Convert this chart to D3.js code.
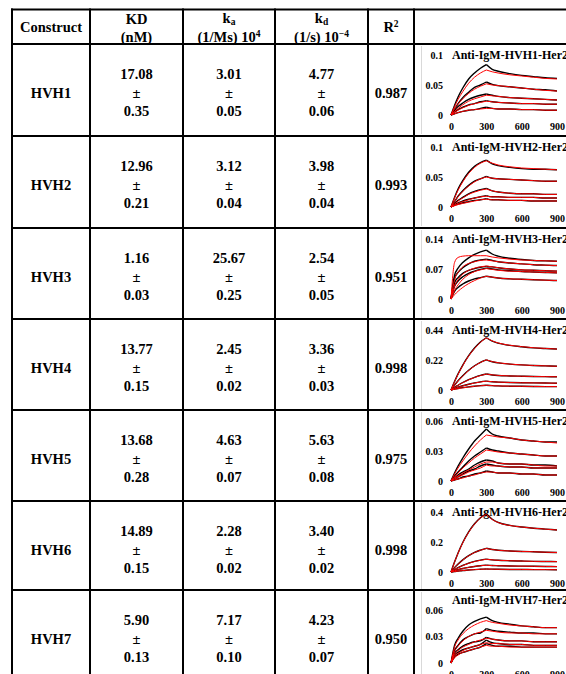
<!DOCTYPE html>
<html><head><meta charset="utf-8">
<script src="https://cdn.jsdelivr.net/npm/d3@7/dist/d3.min.js"></script>
<style>
html,body{margin:0;padding:0;background:#fff;}
svg{display:block;}
text{font-family:"Liberation Serif","Times New Roman",serif;font-weight:bold;fill:#000;}
</style></head>
<body>
<svg id="chart" width="566" height="674"></svg>
<script>
// ---------- DATA ----------
const constructs = ["HVH1","HVH2","HVH3","HVH4","HVH5","HVH6","HVH7"];
const kdNM      = [17.08, 12.96, 1.16, 13.77, 13.68, 14.89, 5.90];
const kdNMErr   = [0.35, 0.21, 0.03, 0.15, 0.28, 0.15, 0.13];
const kaVal     = [3.01, 3.12, 25.67, 2.45, 4.63, 2.28, 7.17];
const kaErr     = [0.05, 0.04, 0.25, 0.02, 0.07, 0.02, 0.10];
const kdVal     = [4.77, 3.98, 2.54, 3.36, 5.63, 3.40, 4.23];
const kdErr     = [0.06, 0.04, 0.05, 0.03, 0.08, 0.02, 0.07];
const r2        = [0.987, 0.993, 0.951, 0.998, 0.975, 0.998, 0.950];

const plotTitles = ["Anti-IgM-HVH1-Her2","Anti-IgM-HVH2-Her2","Anti-IgM-HVH3-Her2","Anti-IgM-HVH4-Her2","Anti-IgM-HVH5-Her2","Anti-IgM-HVH6-Her2","Anti-IgM-HVH7-Her2"];
const yMax   = [0.1, 0.1, 0.14, 0.44, 0.06, 0.4, 0.06];
const yTicks = [[0,0.05,0.1],[0,0.05,0.1],[0,0.07,0.14],[0,0.22,0.44],[0,0.03,0.06],[0,0.2,0.4],[0,0.03,0.06]];
const xTicks = [0, 300, 600, 900];
const time   = [0, 30, 60, 100, 150, 200, 250, 300, 350, 400, 500, 600, 700, 800, 900];

// observed sensorgrams (black) and fitted curves (red), per construct, 5 concentrations each
const obsHVH1 = [
 [0,.016,.030,.045,.060,.070,.078,.084,.076,.073,.069,.066,.064,.062,.061],
 [0,.009,.019,.029,.038,.046,.050,.055,.051,.049,.047,.045,.043,.042,.040],
 [0,.008,.014,.020,.026,.030,.033,.035,.033,.031,.029,.028,.027,.026,.025],
 [0,.005,.009,.013,.017,.019,.022,.024,.022,.021,.020,.019,.019,.018,.018],
 [0,.002,.004,.006,.008,.009,.011,.013,.011,.010,.010,.009,.009,.008,.008]];
const fitHVH1 = [
 [0,.014,.026,.039,.053,.063,.070,.075,.072,.070,.067,.065,.063,.061,.060],
 [0,.010,.018,.027,.036,.043,.048,.052,.050,.049,.047,.045,.043,.041,.040],
 [0,.006,.011,.017,.023,.027,.030,.033,.032,.031,.029,.028,.027,.026,.025],
 [0,.004,.008,.012,.016,.019,.021,.023,.022,.021,.020,.019,.019,.018,.018],
 [0,.002,.004,.006,.008,.009,.010,.011,.011,.010,.010,.009,.009,.008,.008]];
const obsHVH2 = [
 [0,.016,.030,.044,.058,.068,.074,.078,.072,.069,.066,.064,.063,.063,.062],
 [0,.009,.018,.027,.036,.043,.047,.051,.048,.047,.046,.045,.044,.043,.043],
 [0,.006,.011,.016,.022,.026,.029,.031,.027,.025,.023,.022,.022,.021,.021],
 [0,.004,.007,.010,.013,.015,.017,.019,.017,.017,.016,.016,.016,.015,.015],
 [0,.003,.005,.007,.009,.011,.012,.014,.012,.012,.011,.011,.010,.010,.010]];
const fitHVH2 = [
 [0,.015,.028,.042,.056,.066,.073,.077,.073,.070,.067,.065,.064,.063,.062],
 [0,.009,.017,.026,.035,.042,.047,.050,.048,.047,.046,.045,.044,.043,.043],
 [0,.005,.010,.015,.021,.025,.028,.030,.027,.025,.023,.022,.022,.021,.021],
 [0,.003,.006,.009,.012,.015,.017,.018,.017,.017,.016,.016,.016,.015,.015],
 [0,.002,.004,.006,.008,.010,.012,.013,.012,.012,.011,.011,.010,.010,.010]];
const obsHVH3 = [
 [0,.055,.072,.085,.096,.104,.110,.114,.105,.100,.095,.092,.090,.089,.088],
 [0,.048,.062,.073,.082,.088,.091,.093,.090,.087,.084,.082,.080,.079,.078],
 [0,.038,.050,.060,.067,.071,.074,.076,.075,.073,.070,.068,.067,.066,.065],
 [0,.030,.042,.052,.060,.065,.069,.072,.070,.068,.066,.064,.063,.062,.061],
 [0,.018,.027,.035,.042,.047,.050,.053,.051,.049,.047,.046,.045,.044,.043]];
const fitHVH3 = [
 [0,.085,.097,.100,.101,.101,.101,.101,.098,.096,.093,.091,.090,.089,.088],
 [0,.045,.062,.075,.083,.087,.090,.091,.089,.087,.084,.082,.080,.079,.078],
 [0,.030,.045,.058,.067,.072,.075,.077,.075,.073,.070,.068,.067,.066,.065],
 [0,.020,.033,.046,.057,.064,.068,.071,.069,.067,.065,.064,.063,.062,.061],
 [0,.010,.018,.027,.036,.043,.049,.053,.051,.049,.047,.046,.045,.044,.043]];
const obsHVH4 = [
 [0,.062,.118,.183,.252,.308,.352,.383,.358,.344,.327,.317,.309,.304,.300],
 [0,.036,.068,.105,.145,.178,.203,.221,.207,.199,.190,.184,.180,.177,.174],
 [0,.019,.035,.055,.076,.093,.107,.117,.110,.106,.103,.101,.099,.098,.097],
 [0,.010,.020,.031,.042,.052,.060,.065,.060,.058,.055,.053,.052,.051,.050],
 [0,.006,.011,.017,.023,.028,.032,.035,.032,.030,.028,.027,.026,.025,.025]];
const fitHVH4 = [
 [0,.060,.115,.180,.250,.305,.350,.383,.360,.345,.328,.318,.310,.305,.300],
 [0,.035,.066,.103,.143,.176,.202,.221,.208,.200,.190,.184,.180,.177,.174],
 [0,.018,.034,.054,.075,.092,.106,.117,.111,.107,.103,.101,.099,.098,.097],
 [0,.010,.019,.030,.041,.051,.059,.065,.061,.058,.055,.053,.052,.051,.050],
 [0,.005,.010,.016,.022,.027,.031,.035,.032,.030,.028,.027,.026,.025,.025]];
const obsHVH5 = [
 [0,.008,.015,.023,.032,.040,.046,.052,.047,.045,.043,.041,.040,.039,.039],
 [0,.005,.009,.014,.020,.025,.029,.033,.031,.030,.028,.027,.026,.025,.025],
 [0,.003,.006,.009,.012,.016,.019,.021,.020,.018,.017,.017,.016,.016,.015],
 [0,.002,.004,.007,.010,.012,.015,.017,.016,.015,.014,.014,.013,.013,.013],
 [0,.001,.002,.004,.005,.007,.008,.010,.009,.008,.008,.007,.007,.006,.006]];
const fitHVH5 = [
 [0,.007,.013,.020,.028,.035,.041,.046,.045,.044,.043,.041,.040,.039,.038],
 [0,.004,.008,.013,.018,.023,.027,.031,.030,.029,.028,.027,.026,.025,.025],
 [0,.003,.005,.008,.011,.014,.017,.019,.019,.018,.017,.017,.016,.015,.015],
 [0,.002,.004,.006,.009,.011,.013,.016,.015,.015,.014,.014,.013,.013,.013],
 [0,.001,.002,.003,.005,.006,.008,.009,.009,.008,.008,.007,.007,.006,.006]];
const obsHVH6 = [
 [0,.066,.127,.197,.268,.322,.362,.388,.352,.331,.311,.300,.292,.286,.280],
 [0,.029,.053,.081,.109,.131,.146,.158,.150,.145,.140,.137,.135,.132,.130],
 [0,.015,.029,.044,.059,.071,.079,.086,.081,.078,.075,.073,.071,.070,.069],
 [0,.008,.015,.023,.031,.037,.042,.046,.043,.042,.040,.039,.038,.037,.036],
 [0,.003,.006,.010,.013,.016,.018,.020,.019,.018,.017,.017,.016,.016,.015]];
const fitHVH6 = [
 [0,.065,.125,.195,.265,.320,.360,.385,.350,.330,.310,.300,.292,.286,.280],
 [0,.028,.052,.080,.108,.130,.145,.157,.150,.145,.140,.137,.135,.132,.130],
 [0,.015,.028,.043,.058,.070,.078,.085,.081,.078,.075,.073,.071,.070,.069],
 [0,.008,.015,.023,.031,.037,.042,.045,.043,.042,.040,.039,.038,.037,.036],
 [0,.003,.006,.010,.013,.016,.018,.020,.019,.018,.017,.017,.016,.016,.015]];
const obsHVH7 = [
 [0,.020,.028,.036,.043,.047,.050,.052,.048,.046,.044,.042,.041,.040,.040],
 [0,.014,.020,.026,.030,.033,.034,.039,.037,.036,.035,.034,.034,.033,.033],
 [0,.011,.015,.019,.022,.024,.025,.029,.027,.026,.025,.025,.024,.024,.024],
 [0,.009,.012,.015,.017,.019,.021,.026,.023,.022,.021,.021,.020,.020,.020],
 [0,.007,.010,.012,.014,.016,.018,.022,.020,.019,.019,.018,.018,.018,.018]];
const fitHVH7 = [
 [0,.018,.026,.033,.039,.043,.046,.048,.046,.045,.043,.042,.041,.040,.040],
 [0,.013,.019,.025,.030,.033,.035,.037,.036,.035,.034,.034,.033,.033,.033],
 [0,.010,.014,.018,.021,.024,.026,.028,.027,.026,.025,.025,.024,.024,.024],
 [0,.008,.011,.014,.017,.019,.021,.023,.022,.022,.021,.021,.020,.020,.020],
 [0,.006,.009,.012,.014,.016,.018,.020,.019,.019,.018,.018,.018,.018,.018]];

const observed = [obsHVH1, obsHVH2, obsHVH3, obsHVH4, obsHVH5, obsHVH6, obsHVH7];
const fitted   = [fitHVH1, fitHVH2, fitHVH3, fitHVH4, fitHVH5, fitHVH6, fitHVH7];

// ---------- LAYOUT ----------
const svg = d3.select("#chart");
const W = 566, H = 674;
const colX = [12, 90, 183, 275, 368, 414];
const tableTop = 9.5;
const rowTops = [44, 136, 228, 319, 410, 501, 590];
const rowH = 91;
const serif = '"Liberation Serif","Times New Roman",serif';
const f2 = d3.format(".2f"), f3 = d3.format(".3f");

const cx = i => (colX[i] + colX[i+1]) / 2;

// header
const hdr = svg.append("g").attr("font-size", 14.5);
hdr.append("text").attr("x", cx(0)).attr("y", 27).attr("text-anchor","middle").attr("dominant-baseline","central").text("Construct");
hdr.append("text").attr("x", cx(1)).attr("y", 19).attr("text-anchor","middle").attr("dominant-baseline","central").text("KD");
hdr.append("text").attr("x", cx(1)).attr("y", 36.5).attr("text-anchor","middle").attr("dominant-baseline","central").text("(nM)");
let t = hdr.append("text").attr("x", cx(2)).attr("y", 23).attr("text-anchor","middle");
t.append("tspan").text("k");
t.append("tspan").attr("font-size", 9.5).attr("dy", 2).text("a");
t = hdr.append("text").attr("x", cx(2)).attr("y", 41.5).attr("text-anchor","middle");
t.append("tspan").text("(1/Ms) 10");
t.append("tspan").attr("font-size", 9.5).attr("dy", -5).text("4");
t = hdr.append("text").attr("x", cx(3)).attr("y", 23).attr("text-anchor","middle");
t.append("tspan").text("k");
t.append("tspan").attr("font-size", 9.5).attr("dy", 2).text("d");
t = hdr.append("text").attr("x", cx(3)).attr("y", 41.5).attr("text-anchor","middle");
t.append("tspan").text("(1/s) 10");
t.append("tspan").attr("font-size", 9.5).attr("dy", -5).text("\u22124");
t = hdr.append("text").attr("x", cx(4)).attr("y", 32).attr("text-anchor","middle");
t.append("tspan").text("R");
t.append("tspan").attr("font-size", 9.5).attr("dy", -5).text("2");

// body rows
const body = svg.append("g").attr("font-size", 14.5).attr("text-anchor","middle").attr("dominant-baseline","central");
constructs.forEach((c, i) => {
  const r = rowTops[i];
  body.append("text").attr("x", cx(0)).attr("y", r + 49).text(c);
  [[kdNM, kdNMErr], [kaVal, kaErr], [kdVal, kdErr]].forEach(([v, e], j) => {
    body.append("text").attr("x", cx(j+1)).attr("y", r + 30).text(f2(v[i]));
    body.append("text").attr("x", cx(j+1)).attr("y", r + 49).text("\u00b1");
    body.append("text").attr("x", cx(j+1)).attr("y", r + 67).text(f2(e[i]));
  });
  body.append("text").attr("x", cx(4)).attr("y", r + 49).text(f3(r2[i]));
});

// sensorgram plots
const x = d3.scaleLinear().domain([0, 900]).range([451, 557]);
constructs.forEach((c, i) => {
  const r = rowTops[i];
  const last = i === constructs.length - 1;
  const yTop = last ? r + 20 : r + 11;
  const yZero = last ? r + 73 : r + 71;
  const y = d3.scaleLinear().domain([0, yMax[i]]).range([yZero, yTop]);
  const g = svg.append("g");
  // faint chart frame
  g.append("line").attr("x1", 421.5).attr("x2", 421.5).attr("y1", r + 2).attr("y2", Math.min(r + rowH - 1, H))
    .attr("stroke", "#d9d9d9").attr("stroke-width", 1);
  // title
  g.append("text").attr("x", 452).attr("y", (last ? r + 10 : r + 11)).attr("dominant-baseline","central")
    .attr("font-size", 12).text(plotTitles[i]);
  // y axis labels
  const ya = d3.axisLeft(y).tickValues(yTicks[i]).tickSize(0).tickPadding(0).tickFormat(d => String(d));
  const yg = g.append("g").attr("transform", "translate(443,0)").call(ya);
  yg.select(".domain").remove();
  yg.selectAll("text").attr("font-size", 10).attr("font-family", serif).attr("font-weight", "bold").attr("fill", "#000");
  // x axis labels
  const xa = d3.axisBottom(x).tickValues(xTicks).tickSize(0).tickPadding(0).tickFormat(d3.format("d"));
  const xg = g.append("g").attr("transform", `translate(0,${yZero + 8})`).call(xa);
  xg.select(".domain").remove();
  xg.selectAll("text").attr("font-size", 10).attr("font-family", serif).attr("font-weight", "bold").attr("fill", "#000");

  const line = d3.line().x(d => x(d[0])).y(d => y(d[1])).curve(d3.curveMonotoneX);
  const split = arr => {
    const pts = time.map((tt, k) => [tt, arr[k]]);
    return [pts.filter(p => p[0] <= 300), pts.filter(p => p[0] >= 300)];
  };
  observed[i].forEach(s => {
    split(s).forEach(seg => g.append("path").attr("d", line(seg)).attr("fill","none")
      .attr("stroke","#000").attr("stroke-width", 1.4).attr("stroke-linejoin","round"));
  });
  fitted[i].forEach(s => {
    split(s).forEach(seg => g.append("path").attr("d", line(seg)).attr("fill","none")
      .attr("stroke","#ff0000").attr("stroke-width", 1));
  });
});

// table grid lines
const grid = svg.append("g").attr("stroke", "#000").attr("stroke-width", 2);
[tableTop, ...rowTops].forEach(yy => grid.append("line").attr("x1", colX[0] - 1).attr("x2", W).attr("y1", yy).attr("y2", yy));
colX.forEach(xx => grid.append("line").attr("x1", xx).attr("x2", xx).attr("y1", tableTop - 1).attr("y2", H));
</script>
</body></html>
